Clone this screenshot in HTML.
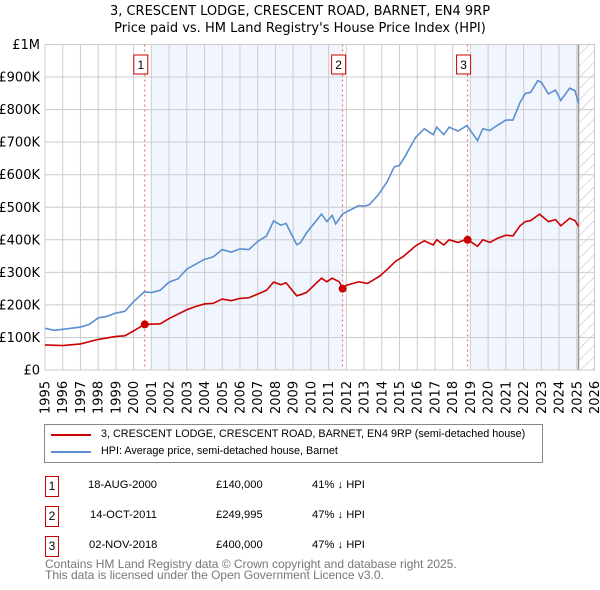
<!DOCTYPE html>
<html><head><meta charset="utf-8">
<style>
body{margin:0;background:#fff;font-family:"Liberation Sans","DejaVu Sans",sans-serif;}
#wrap{position:relative;width:600px;height:590px;overflow:hidden;}
.t{position:absolute;font-size:12.5px;color:#000;white-space:nowrap;}
.box{position:absolute;border:1px solid #c00;width:12px;height:19px;font-size:12px;text-align:center;line-height:19px;}
</style></head><body>
<div id="wrap">
<svg id="chart" width="600" height="420" style="position:absolute;left:0;top:0"></svg>
<div style="position:absolute;left:44px;top:424px;width:497px;height:37px;border:1px solid #888;">
 <div>
  <div style="position:absolute;left:6px;top:9px;width:40px;height:2px;background:#c00"></div>
  <div class="t" style="left:56px;top:3px;font-size:10.8px">3, CRESCENT LODGE, CRESCENT ROAD, BARNET, EN4 9RP (semi-detached house)</div>
 </div>
 <div>
  <div style="position:absolute;left:6px;top:26px;width:40px;height:2px;background:#5b8fd0"></div>
  <div class="t" style="left:56px;top:20px;font-size:10.8px">HPI: Average price, semi-detached house, Barnet</div>
 </div>
</div>
<div>
 <div>
  <div class="box" style="left:45px;top:476px">1</div>
  <div class="t" style="left:88px;top:479px;font-size:11.2px">18-AUG-2000</div>
  <div class="t" style="left:216px;top:479px;font-size:11.2px">£140,000</div>
  <div class="t" style="left:312px;top:479px;font-size:11.2px">41% ↓ HPI</div>
 </div>
 <div>
  <div class="box" style="left:45px;top:506px">2</div>
  <div class="t" style="left:90px;top:509px;font-size:11.2px">14-OCT-2011</div>
  <div class="t" style="left:216px;top:509px;font-size:11.2px">£249,995</div>
  <div class="t" style="left:312px;top:509px;font-size:11.2px">47% ↓ HPI</div>
 </div>
 <div>
  <div class="box" style="left:45px;top:536px">3</div>
  <div class="t" style="left:89px;top:539px;font-size:11.2px">02-NOV-2018</div>
  <div class="t" style="left:216px;top:539px;font-size:11.2px">£400,000</div>
  <div class="t" style="left:312px;top:539px;font-size:11.2px">47% ↓ HPI</div>
 </div>
</div>
<div class="t" style="left:45px;top:559px;font-size:12px;color:#777;line-height:11px">Contains HM Land Registry data © Crown copyright and database right 2025.<br>This data is licensed under the Open Government Licence v3.0.</div>
</div>
<script>
const hpiYears=[1995,1995.5,1996,1997,1997.5,1998,1998.5,1999,1999.5,2000,2000.6,2001,2001.5,2002,2002.5,2003,2003.5,2004,2004.5,2005,2005.5,2006,2006.5,2007,2007.5,2007.9,2008.3,2008.6,2009.2,2009.4,2009.75,2010.6,2010.9,2011.2,2011.4,2011.8,2012.7,2013.0,2013.3,2013.8,2014.3,2014.7,2015.0,2015.3,2015.9,2016.4,2016.9,2017.1,2017.5,2017.8,2018.3,2018.8,2019.4,2019.7,2020.1,2020.5,2021.0,2021.4,2021.8,2022.1,2022.4,2022.8,2023.0,2023.4,2023.8,2024.1,2024.6,2024.9,2025.1];
const hpiValues=[128,122,125,132,140,160,165,175,180,210,240,238,245,270,280,310,325,340,348,370,362,372,370,395,412,458,445,450,385,390,421,479,456,475,449,480,505,503,508,538,578,624,629,655,714,741,723,746,723,746,734,751,705,741,736,751,768,768,822,850,853,889,884,848,860,828,866,858,819];
const propYears=[1995,1996,1997,1998,1999,1999.5,2000,2000.6,2001.5,2002,2003,2003.5,2004,2004.5,2005,2005.5,2006,2006.5,2007,2007.5,2007.9,2008.3,2008.6,2009.2,2009.4,2009.75,2010.6,2010.9,2011.2,2011.6,2011.8,2012.0,2012.7,2013.2,2013.9,2014.4,2014.8,2015.2,2015.9,2016.4,2016.9,2017.1,2017.5,2017.8,2018.3,2018.8,2019.4,2019.7,2020.1,2020.5,2021.0,2021.4,2021.8,2022.1,2022.4,2022.9,2023.4,2023.8,2024.1,2024.6,2024.9,2025.1];
const propValues=[77,75,80,94,103,105,120,140,142,158,185,195,203,205,218,213,220,222,233,245,270,262,268,228,231,238,282,271,282,271,250,260,271,266,289,314,335,348,381,397,384,400,384,400,392,402,380,400,392,404,414,412,443,456,459,479,456,462,443,466,459,441];
const saleLabels=["1","2","3"];
const saleYears=[2000.63,2011.79,2018.84];
const saleValues=[140,249.995,400];
const yTicks=[0,100,200,300,400,500,600,700,800,900,1000];
const yTickLabels=["£0","£100K","£200K","£300K","£400K","£500K","£600K","£700K","£800K","£900K","£1M"];
const xTicks=[1995,1996,1997,1998,1999,2000,2001,2002,2003,2004,2005,2006,2007,2008,2009,2010,2011,2012,2013,2014,2015,2016,2017,2018,2019,2020,2021,2022,2023,2024,2025,2026];
const shadeBands=[[2001.0,2011.79],[2019.0,2025.1]];
const dataEnd=2025.1;

const L=45,R=594.5,T=44.5,B=370;
const X=y=>L+(y-1995)/(2026-1995)*(R-L);
const Y=v=>B-v/1000*(B-T);
const svg=document.getElementById('chart');
const NS='http://www.w3.org/2000/svg';
function mk(tag,attrs,parent){const e=document.createElementNS(NS,tag);for(const k in attrs)e.setAttribute(k,attrs[k]);(parent||svg).appendChild(e);return e;}

const defs=mk('defs',{});
const pat=mk('pattern',{id:'hatch',width:8,height:8,patternUnits:'userSpaceOnUse',patternTransform:'rotate(45)'},defs);
mk('line',{x1:0,y1:0,x2:0,y2:8,stroke:'#bbb','stroke-width':1},pat);

shadeBands.forEach(b=>{
 const r=mk('rect',{x:X(b[0]),y:T,width:X(b[1])-X(b[0]),height:B-T,fill:'#eef3fd',opacity:0.8});
 
 
});
const h=mk('rect',{x:X(dataEnd),y:T,width:R-X(dataEnd),height:B-T,fill:'url(#hatch)'});



xTicks.forEach(t=>{
 const g=mk('line',{x1:X(t),x2:X(t),y1:T,y2:B,stroke:'#ccc','stroke-width':1});
 
 
 const tx=mk('text',{x:0,y:0,transform:`translate(${X(t)+4.5},414) rotate(-90)`,'font-size':13,'font-family':'DejaVu Sans, sans-serif'});
 tx.textContent=t;
 
 
});
yTicks.forEach((t,i)=>{
 const g=mk('line',{x1:L,x2:R,y1:Y(t),y2:Y(t),stroke:'#ccc','stroke-width':1});
 
 
 const tx=mk('text',{x:40,y:Y(t)+4.5,'text-anchor':'end','font-size':13,'font-family':'DejaVu Sans, sans-serif'});
 tx.textContent=yTickLabels[i];
 
 
});
const fr=mk('rect',{x:L,y:T,width:R-L,height:B-T,fill:'none',stroke:'#ccc'});


const el=mk('line',{x1:X(dataEnd),x2:X(dataEnd),y1:T,y2:B,stroke:'#999','stroke-width':1.5});



saleYears.forEach((s,i)=>{
 const l=mk('line',{x1:X(s),x2:X(s),y1:T,y2:B,stroke:'#f06060','stroke-width':1,'stroke-dasharray':'2,3'});
 
 
 const bx=mk('rect',{x:X(s)-11,y:55,width:14,height:19,fill:'#fff',stroke:'#c00'});
 
 
 const tx=mk('text',{x:X(s)-4,y:69,'text-anchor':'middle','font-size':12});
 tx.textContent=saleLabels[i];
 
 
});

const hp=mk('polyline',{points:hpiYears.map((y,i)=>X(y)+','+Y(hpiValues[i])).join(' '),fill:'none',stroke:'#5b8fd0','stroke-width':1.6});


const pp=mk('polyline',{points:propYears.map((y,i)=>X(y)+','+Y(propValues[i])).join(' '),fill:'none',stroke:'#c00','stroke-width':1.6});


saleYears.forEach((s,i)=>{
 const c=mk('circle',{cx:X(s),cy:Y(saleValues[i]),r:4,fill:'#c00'});
 
 
});

const t1=mk('text',{x:300,y:15,'text-anchor':'middle','font-size':13,'font-family':'DejaVu Sans, sans-serif'});
t1.textContent='3, CRESCENT LODGE, CRESCENT ROAD, BARNET, EN4 9RP';


const t2=mk('text',{x:300,y:32,'text-anchor':'middle','font-size':13,'font-family':'DejaVu Sans, sans-serif'});
t2.textContent="Price paid vs. HM Land Registry's House Price Index (HPI)";


</script>
</body></html>
